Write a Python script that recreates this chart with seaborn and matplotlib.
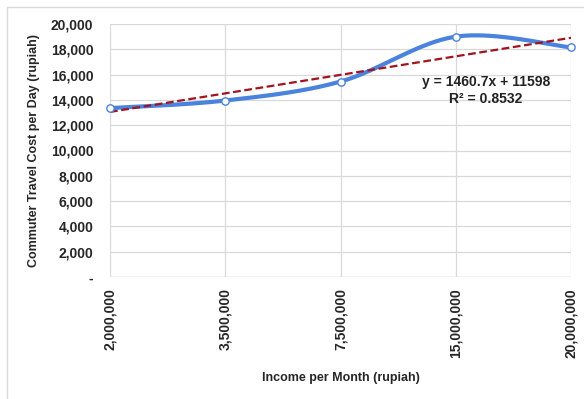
import numpy as np
import pandas as pd
import matplotlib
matplotlib.use("Agg")
import matplotlib.pyplot as plt
import seaborn as sns
from matplotlib import font_manager
from matplotlib.patches import Rectangle

# data
income = ['2,000,000', '3,500,000', '7,500,000', '15,000,000', '20,000,000']
cost = [13350, 13950, 15450, 19000, 18150]
eq_text = "y = 1460.7x + 11598"
r2_text = "R² = 0.8532"
yticks = [0, 2000, 4000, 6000, 8000, 10000, 12000, 14000, 16000, 18000, 20000]

sns.set_style("whitegrid")
names = {f.name for f in font_manager.fontManager.ttflist}
fam = "Liberation Sans Narrow" if "Liberation Sans Narrow" in names else "Liberation Sans"
plt.rcParams['font.family'] = [fam, 'DejaVu Sans']

x = np.arange(len(income))
y = np.array(cost, dtype=float)


# Excel-like smoothed line (Catmull-Rom as cubic Bezier)
def smooth(xs, ys, n=40):
    P = np.column_stack([xs, ys])
    P = np.vstack([P[0], P, P[-1]])
    out = []
    for i in range(1, len(P) - 2):
        p0, p1, p2, p3 = P[i - 1], P[i], P[i + 1], P[i + 2]
        b1 = p1 + (p2 - p0) / 6
        b2 = p2 - (p3 - p1) / 6
        t = np.linspace(0, 1, n)[:, None]
        seg = (1 - t) ** 3 * p1 + 3 * (1 - t) ** 2 * t * b1 + 3 * (1 - t) * t ** 2 * b2 + t ** 3 * p2
        out.append(seg)
    s = np.vstack(out)
    return s[:, 0], s[:, 1]


sx, sy = smooth(x, y)
k, b = np.polyfit(x + 1, y, 1)
trend = pd.DataFrame({'x': x, 'y': k * (x + 1) + b})

fig = plt.figure(figsize=(5.84, 3.99), dpi=100)
ax = fig.add_axes([110 / 584, 1 - 277 / 399, 461 / 584, 253 / 399])

sns.lineplot(x=sx, y=sy, ax=ax, color='#4a83dc', lw=3, sort=False, zorder=3)
sns.lineplot(data=trend, x='x', y='y', ax=ax, color='#a0141e', lw=1.6,
             linestyle=(0, (3.5, 1.6)), zorder=4)
sns.scatterplot(x=x, y=y, ax=ax, s=28, color='white', edgecolor='#4a83dc',
                linewidth=1, zorder=5, clip_on=False)

ax.set_xlim(0, len(income) - 1)
ax.set_ylim(0, 20000)
ax.set_xticks(x)
ax.set_xticklabels(income, rotation=90, fontsize=10, fontweight='bold')
ax.set_yticks(yticks)
ax.set_yticklabels(['-' if v == 0 else f"{v:,}" for v in yticks], fontsize=10, fontweight='bold')
ax.tick_params(axis='x', length=0, pad=8)
ax.tick_params(axis='y', length=0, pad=12)
ax.grid(True, color='#d9d9d9', lw=0.9)
for sp in ax.spines.values():
    sp.set_visible(False)
ax.axhline(0, color='#d9d9d9', lw=1, zorder=1)

ax.set_xlabel("Income per Month (rupiah)", fontsize=9, fontweight='bold', labelpad=10)
ax.set_ylabel("Commuter Travel Cost per Day (rupiah)", fontsize=9, fontweight='bold', labelpad=8)

ax.text(3.26, 15400, eq_text, ha='center', va='center', fontsize=10, fontweight='bold', color='#222222')
ax.text(3.26, 14050, r2_text, ha='center', va='center', fontsize=10, fontweight='bold', color='#222222')

fig.patches.append(Rectangle((7 / 584, -0.1), 1, 1 - 7 / 399 + 0.1, transform=fig.transFigure,
                             fill=False, edgecolor='#d9d9d9', lw=1))

fig.savefig("out.png", dpi=100)
